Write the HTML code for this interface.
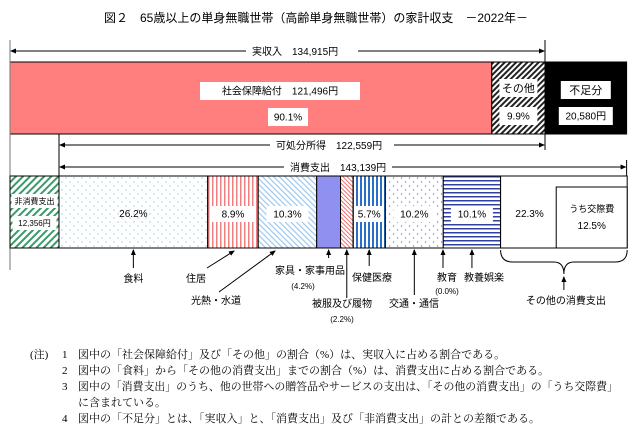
<!DOCTYPE html>
<html><head><meta charset="utf-8">
<style>
html,body{margin:0;padding:0;background:#fff;}
svg{display:block;font-family:"Liberation Sans","Noto Sans CJK JP",sans-serif;}
.n{font-family:"Liberation Serif","Noto Serif CJK SC",serif;font-size:11px;}
</style></head>
<body>
<svg id="c" width="633" height="430" viewBox="0 0 633 430" xmlns="http://www.w3.org/2000/svg">
<defs>
<marker id="ar" markerWidth="6" markerHeight="6" refX="5" refY="3" orient="auto"><path d="M0,0.5 L6,3 L0,5.5Z" fill="#000"/></marker>
<pattern id="pOther" width="4" height="4" patternUnits="userSpaceOnUse" patternTransform="rotate(45)"><rect width="4" height="4" fill="#fff"/><rect width="2" height="4" fill="#222"/></pattern>
<pattern id="pNon" width="5" height="5" patternUnits="userSpaceOnUse" patternTransform="rotate(45)"><rect width="5" height="5" fill="#fff"/><rect width="2" height="5" fill="#3a9a6a"/></pattern>
<pattern id="pFood" width="8" height="8" patternUnits="userSpaceOnUse"><rect width="8" height="8" fill="#fff"/><circle cx="2" cy="2" r="0.7" fill="#8cc8e8"/><circle cx="6" cy="6" r="0.7" fill="#8cc8e8"/></pattern>
<pattern id="pHouse" width="4" height="4" patternUnits="userSpaceOnUse"><rect width="4" height="4" fill="#fff"/><rect width="1.5" height="4" fill="#f08080"/></pattern>
<pattern id="pUtil" width="4" height="4" patternUnits="userSpaceOnUse" patternTransform="rotate(-45)"><rect width="4" height="4" fill="#fff"/><rect width="1.2" height="4" fill="#9cc8ee"/></pattern>
<pattern id="pCloth" width="3" height="3" patternUnits="userSpaceOnUse" patternTransform="rotate(-45)"><rect width="3" height="3" fill="#fff"/><rect width="1" height="3" fill="#f07070"/></pattern>
<pattern id="pMed" width="4" height="4" patternUnits="userSpaceOnUse"><rect width="4" height="4" fill="#fff"/><rect width="2" height="4" fill="#2a70c8"/></pattern>
<pattern id="pTrans" width="8" height="8" patternUnits="userSpaceOnUse"><rect width="8" height="8" fill="#fff"/><path d="M1,1 l1,1 l-1,1 M5,5 l1,1 l-1,1" stroke="#9090e0" stroke-width="0.7" fill="none"/></pattern>
<pattern id="pCult" width="4" height="4" patternUnits="userSpaceOnUse"><rect width="4" height="4" fill="#fff"/><rect width="4" height="1.5" fill="#3040a0"/></pattern>
</defs>
<text x="316" y="22" text-anchor="middle" font-size="12">図２　65歳以上の単身無職世帯（高齢単身無職世帯）の家計収支　－2022年－</text>
<g id="top"></g>
<g id="bottom"></g>
<g id="labels"></g>
<g class="n">
<text x="30" y="358">(注)</text>
<text x="62" y="358">1</text><text x="78" y="358">図中の「社会保障給付」及び「その他」の割合（%）は、実収入に占める割合である。</text>
<text x="62" y="374">2</text><text x="78" y="374">図中の「食料」から「その他の消費支出」までの割合（%）は、消費支出に占める割合である。</text>
<text x="62" y="390">3</text><text x="78" y="390" textLength="540" lengthAdjust="spacingAndGlyphs">図中の「消費支出」のうち、他の世帯への贈答品やサービスの支出は、「その他の消費支出」の「うち交際費」</text>
<text x="78" y="406">に含まれている。</text>
<text x="62" y="422">4</text><text x="78" y="422">図中の「不足分」とは、「実収入」と、「消費支出」及び「非消費支出」の計との差額である。</text>
</g>
</svg>
<script>
const incomeLabels = ["社会保障給付", "その他", "不足分"];
const incomeValues = [121496, 13419, 20580];
const incomeShares = ["90.1%", "9.9%", ""];
const totalIncome = 134915;
const disposable = 122559;
const consumption = 143139;
const nonConsumption = 12356;
const expCategories = ["食料","住居","光熱・水道","家具・家事用品","被服及び履物","保健医療","交通・通信","教育","教養娯楽","その他の消費支出"];
const expShares = [26.2, 8.9, 10.3, 4.2, 2.2, 5.7, 10.2, 0.0, 10.1, 22.3];
const socialShare = 12.5;

const NS = "http://www.w3.org/2000/svg";
const X0 = 10, PX = 535 / totalIncome;
const xs = v => X0 + v * PX;
function mk(tag, attrs, parent, txt) {
  const e = document.createElementNS(NS, tag);
  for (const k in attrs) e.setAttribute(k, attrs[k]);
  if (txt !== undefined) e.textContent = txt;
  parent.appendChild(e); return e;
}
const gTop = document.getElementById('top'), gBot = document.getElementById('bottom'), gLab = document.getElementById('labels');

const fills = ["#ff7f7f", "url(#pOther)", "#000"];
let acc = 0;
const topSegs = [];
incomeValues.forEach((v, i) => {
  const x = xs(acc), w = v * PX;
  const r = mk('rect', {x, y: 62, width: w, height: 72, fill: fills[i], stroke: '#000', 'stroke-width': 1}, gTop);
  
  
  topSegs.push([x, w]); acc += v;
});
function box(g, cx, cy, w, h, txt, fs) {
  mk('rect', {x: cx - w/2, y: cy - h/2, width: w, height: h, fill: '#fff'}, g);
  return mk('text', {x: cx, y: cy + fs*0.36, 'text-anchor': 'middle', 'font-size': fs}, g, txt);
}
box(gTop, 280, 91, 160, 18, "社会保障給付　" + incomeValues[0].toLocaleString('en-US') + "円", 10);
box(gTop, 288, 117, 40, 18, incomeShares[0], 10);
const ox = topSegs[1][0], ow = topSegs[1][1];
box(gTop, ox + ow/2, 88, 38, 18, incomeLabels[1], 11);
box(gTop, ox + ow/2, 116, 38, 18, incomeShares[1], 10);
const fx = topSegs[2][0], fw = topSegs[2][1];
box(gTop, fx + fw/2, 90, 50, 18, incomeLabels[2], 11);
box(gTop, fx + fw/2, 116, 54, 18, incomeValues[2].toLocaleString('en-US') + "円", 10);

const xInc = xs(totalIncome), xNon = xs(nonConsumption), xCons = xs(nonConsumption + consumption);
mk('line', {x1: X0, y1: 40, x2: X0, y2: 270, stroke: '#777', 'stroke-width': 1}, gTop);
mk('line', {x1: xInc, y1: 40, x2: xInc, y2: 150, stroke: '#000', 'stroke-width': 1}, gTop);
mk('line', {x1: xNon, y1: 134, x2: xNon, y2: 176, stroke: '#000', 'stroke-width': 1}, gTop);
mk('line', {x1: xCons, y1: 160, x2: xCons, y2: 176, stroke: '#000', 'stroke-width': 1}, gTop);
function arrowRow(y, x1, x2, label, lx, lw) {
  const g = mk('g', {}, gTop);
  
  
  mk('line', {x1: lx - 6, y1: y, x2: x1 + 1, y2: y, stroke: '#000', 'marker-end': 'url(#ar)'}, g);
  mk('line', {x1: lx + lw + 6, y1: y, x2: x2 - 1, y2: y, stroke: '#000', 'marker-end': 'url(#ar)'}, g);
  mk('text', {x: lx, y: y + 4, 'font-size': 10}, g, label);
}
arrowRow(51, X0, xInc, "実収入　" + totalIncome.toLocaleString('en-US') + "円", 252, 100);
arrowRow(145, xNon, xInc, "可処分所得　" + disposable.toLocaleString('en-US') + "円", 276, 112);
arrowRow(167, xNon, xCons, "消費支出　" + consumption.toLocaleString('en-US') + "円", 290, 96);

const BY = 176, BH = 72;
const nr = mk('rect', {x: X0, y: BY, width: nonConsumption*PX, height: BH, fill: 'url(#pNon)', stroke: '#000'}, gBot);


box(gBot, X0 + nonConsumption*PX/2, 201, 46, 14, "非消費支出", 8);
box(gBot, X0 + nonConsumption*PX/2, 223, 44, 14, nonConsumption.toLocaleString('en-US') + "円", 8);
const efills = ['url(#pFood)','url(#pHouse)','url(#pUtil)','#9090f0','url(#pCloth)','url(#pMed)','url(#pTrans)','#fff','url(#pCult)','#fff'];
const consW = consumption * PX;
let cx = xNon;
const centers = [];
expShares.forEach((s, i) => {
  const w = s / 100 * consW;
  const r = mk('rect', {x: cx, y: BY, width: w, height: BH, fill: efills[i], stroke: '#000', 'stroke-width': 1}, gBot);
  
  
  centers.push([cx, w]);
  cx += w;
});
const pctShow = [0,1,2,5,6,8,9];
pctShow.forEach(i => {
  const x = centers[i][0], w = centers[i][1];
  const c = x + w/2;
  if (i === 0) mk('text', {x: c, y: 217, 'text-anchor': 'middle', 'font-size': 10}, gBot, expShares[i].toFixed(1) + "%");
  else if (i === 9) mk('text', {x: x + 29, y: 217, 'text-anchor': 'middle', 'font-size': 10}, gBot, expShares[i].toFixed(1) + "%");
  else box(gBot, c, 214, Math.min(w - 4, 42), 16, expShares[i].toFixed(1) + "%", 10);
});
const ox9 = centers[9][0], ow9 = centers[9][1];
const kw = socialShare / 100 * consW;
mk('rect', {x: ox9 + ow9 - kw, y: 187, width: kw, height: 61, fill: '#fff', stroke: '#000'}, gBot);
mk('text', {x: ox9 + ow9 - kw/2, y: 212, 'text-anchor': 'middle', 'font-size': 9}, gBot, "うち交際費");
mk('text', {x: ox9 + ow9 - kw/2, y: 229, 'text-anchor': 'middle', 'font-size': 10}, gBot, socialShare.toFixed(1) + "%");

function lbl(t, x, y, fs) { return mk('text', {x, y, 'text-anchor': 'middle', 'font-size': fs || 10}, gLab, t); }
function arr(x1, y1, x2, y2) { mk('line', {x1, y1, x2, y2, stroke: '#000', 'marker-end': 'url(#ar)'}, gLab); }
const mid = i => centers[i][0] + centers[i][1]/2;
arr(mid(0), 268, mid(0), 250); lbl(expCategories[0], mid(0), 282);
arr(207, 268, 234, 251); lbl(expCategories[1], 196, 282);
arr(219, 292, 275, 251); lbl(expCategories[2], 216, 304);
arr(mid(3), 258, mid(3), 250); lbl(expCategories[3], 310, 274); lbl("(4.2%)", 303, 289, 8);
arr(mid(4), 298, mid(4), 250); lbl(expCategories[4], 342, 307); lbl("(2.2%)", 342, 322, 8);
arr(mid(5), 266, mid(5), 250); lbl(expCategories[5], 372, 281);
arr(mid(6), 295, mid(6), 250); lbl(expCategories[6], 414, 307);
arr(443, 268, 443, 250); lbl(expCategories[7], 447, 281); lbl("(0.0%)", 447, 294, 8);
arr(mid(8), 268, mid(8), 250); lbl(expCategories[8], 484, 281);
const bx1 = ox9, bx2 = ox9 + ow9, bm = (bx1 + bx2)/2;
mk('path', {d: `M${bx1},250 Q${bx1},262 ${bx1+12},262 L${bm-10},262 Q${bm},262 ${bm},274 Q${bm},262 ${bm+10},262 L${bx2-12},262 Q${bx2},262 ${bx2},250`, fill: 'none', stroke: '#000'}, gLab);
arr(bm, 290, bm, 277);
lbl(expCategories[9], bm + 2, 304);
</script>
</body></html>
